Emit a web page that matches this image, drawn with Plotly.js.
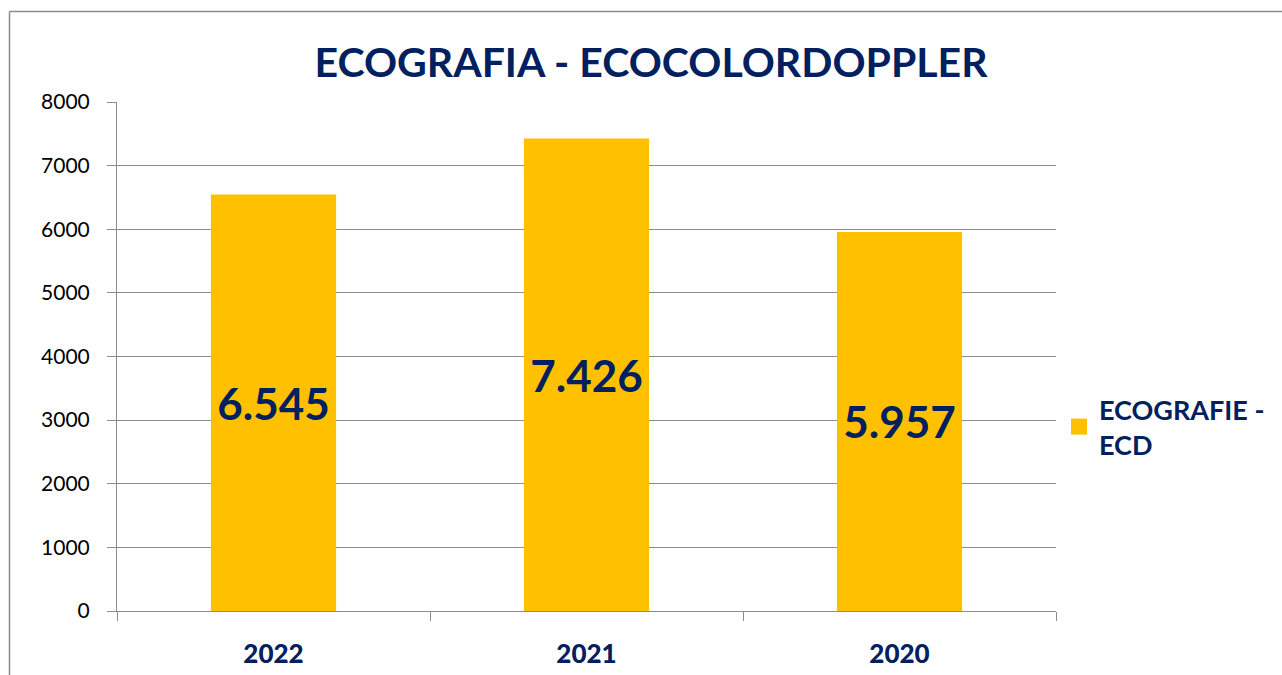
<!DOCTYPE html>
<html>
<head>
<meta charset="utf-8">
<script src="https://cdn.plot.ly/plotly-3.0.1.min.js"></script>
<style>html,body{margin:0;padding:0;background:#fff;}#chart{width:1282px;height:675px;}</style>
</head>
<body>
<div id="chart"></div>
<script>
const categories = ['2022', '2021', '2020'];
const values = [6545, 7426, 5957];
const seriesName = 'ECOGRAFIE -<br>ECD';
const yTicks = [0, 1000, 2000, 3000, 4000, 5000, 6000, 7000, 8000];

const navy = '#002060';
const yellow = '#FFC000';
const grid = '#8c8c8c';
const fam = 'Lato, "Open Sans", sans-serif';

const bars = {
  type: 'bar',
  x: categories,
  y: values,
  name: seriesName,
  marker: {color: yellow},
  texttemplate: '%{y:,.0f}',
  textposition: 'inside',
  insidetextanchor: 'middle',
  textangle: 0,
  textfont: {family: fam, size: 44, color: navy, weight: 'bold'},
  showlegend: false,
  hoverinfo: 'none'
};

// legend proxy (larger square swatch like the original)
const legendProxy = {
  type: 'scatter',
  mode: 'markers',
  x: [null],
  y: [null],
  name: seriesName,
  marker: {symbol: 'square', size: 16, color: yellow},
  showlegend: true,
  hoverinfo: 'none'
};

const L = 117, R = 1056, T = 102, B = 611;
const pw = R - L, ph = B - T;
const px = v => (v - L) / pw;
const py = v => (B - v) / ph;

const layout = {
  width: 1282,
  height: 675,
  separators: ',.',
  margin: {l: L, r: 1282 - R, t: T, b: 675 - B, autoexpand: false},
  paper_bgcolor: '#ffffff',
  plot_bgcolor: '#ffffff',
  font: {family: fam, color: '#000'},
  title: {
    text: 'ECOGRAFIA - ECOCOLORDOPPLER',
    font: {family: fam, size: 41, color: navy, weight: 'bold'},
    xref: 'container', x: 651 / 1282, xanchor: 'center',
    yref: 'container', y: 1 - 63 / 675, yanchor: 'middle'
  },
  bargap: 0.6,
  xaxis: {
    type: 'category',
    categoryorder: 'array',
    categoryarray: categories,
    showgrid: false,
    showline: true,
    linecolor: grid,
    linewidth: 1,
    ticks: 'outside',
    tickson: 'boundaries',
    ticklen: 9,
    tickcolor: grid,
    tickfont: {family: fam, size: 26, color: navy, weight: 900},
    ticklabelstandoff: 20,
    automargin: false,
    fixedrange: true
  },
  yaxis: {
    range: [0, 8000],
    tickvals: yTicks,
    ticktext: yTicks.map(String),
    showgrid: true,
    gridcolor: grid,
    gridwidth: 1,
    zeroline: false,
    showline: true,
    linecolor: grid,
    linewidth: 1,
    ticks: 'outside',
    ticklen: 9,
    tickcolor: grid,
    tickfont: {family: fam, size: 21, color: '#000'},
    ticklabelstandoff: 13,
    automargin: false,
    fixedrange: true
  },
  showlegend: true,
  legend: {
    x: px(1059), xanchor: 'left',
    y: py(427), yanchor: 'middle',
    font: {family: fam, size: 27, color: navy, weight: 'bold'},
    bgcolor: 'rgba(0,0,0,0)',
    itemwidth: 30
  },
  shapes: [
    {type: 'line', xref: 'paper', yref: 'paper', x0: px(9.5), x1: px(1300), y0: py(11.5), y1: py(11.5), line: {color: grid, width: 1.5}},
    {type: 'line', xref: 'paper', yref: 'paper', x0: px(9.5), x1: px(9.5), y0: py(11.5), y1: py(700), line: {color: grid, width: 1.5}}
  ]
};

Plotly.newPlot('chart', [bars, legendProxy], layout, {displayModeBar: false, staticPlot: true});
</script>
</body>
</html>
